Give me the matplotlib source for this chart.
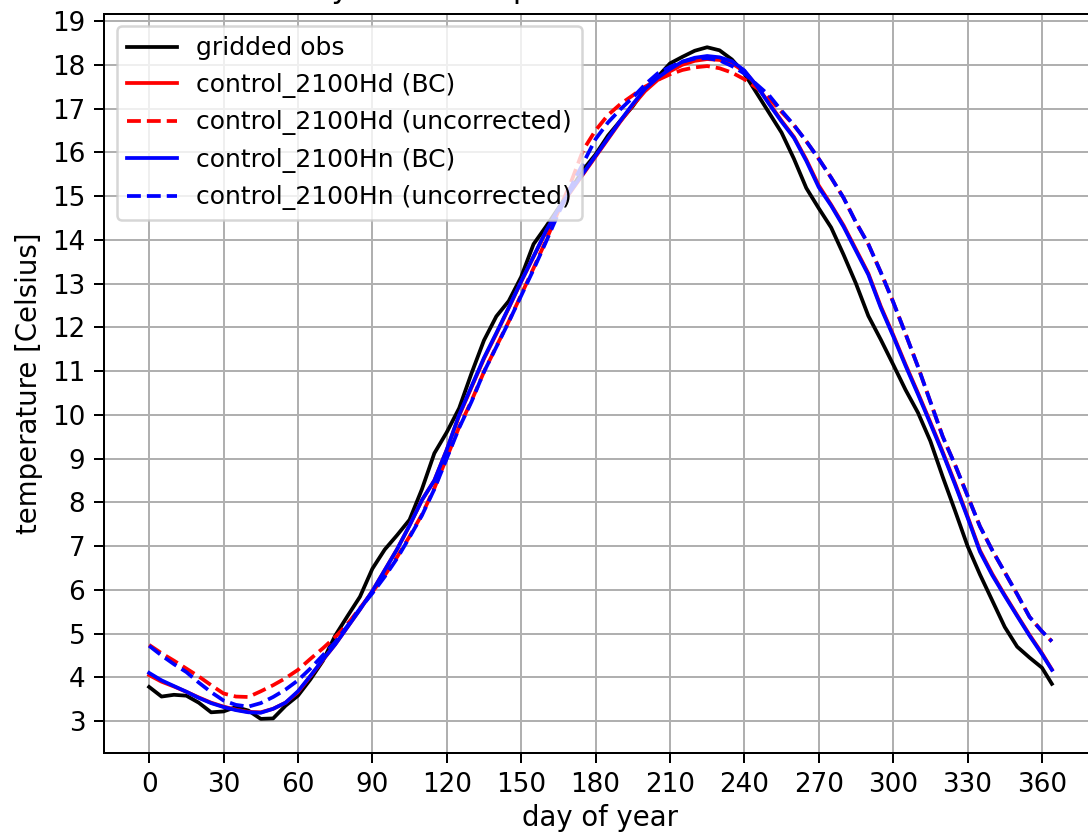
import matplotlib
matplotlib.use("Agg")
import matplotlib.pyplot as plt

days = [0, 5, 10, 15, 20, 25, 30, 35, 40, 45, 50, 55, 60, 65, 70, 75, 80, 85, 90, 95,
        100, 105, 110, 115, 120, 125, 130, 135, 140, 145, 150, 155, 160, 165, 170, 175,
        180, 185, 190, 195, 200, 205, 210, 215, 220, 225, 230, 235, 240, 245, 250, 255,
        260, 265, 270, 275, 280, 285, 290, 295, 300, 305, 310, 315, 320, 325, 330, 335,
        340, 345, 350, 355, 360, 364]

obs = [3.78, 3.56, 3.60, 3.58, 3.42, 3.20, 3.22, 3.32, 3.24, 3.05, 3.06, 3.35, 3.58, 3.95,
       4.37, 4.95, 5.40, 5.84, 6.48, 6.92, 7.25, 7.60, 8.30, 9.12, 9.60, 10.15, 10.95, 11.70,
       12.25, 12.60, 13.15, 13.90, 14.30, 14.72, 15.15, 15.60, 15.95, 16.38, 16.72, 17.05,
       17.45, 17.72, 18.03, 18.18, 18.32, 18.40, 18.33, 18.12, 17.80, 17.35, 16.90, 16.45,
       15.85, 15.18, 14.72, 14.28, 13.66, 13.00, 12.26, 11.72, 11.15, 10.57, 10.05, 9.40,
       8.58, 7.80, 7.00, 6.35, 5.75, 5.15, 4.70, 4.45, 4.22, 3.85]

hd_bc = [4.05, 3.90, 3.79, 3.67, 3.54, 3.42, 3.33, 3.26, 3.21, 3.20, 3.28, 3.42, 3.66, 4.02,
         4.39, 4.75, 5.15, 5.55, 5.97, 6.45, 6.93, 7.47, 8.05, 8.50, 9.20, 9.98, 10.63, 11.28,
         11.85, 12.44, 13.04, 13.61, 14.18, 14.68, 15.10, 15.50, 15.90, 16.30, 16.70, 17.07,
         17.40, 17.65, 17.85, 18.00, 18.09, 18.13, 18.11, 18.03, 17.85, 17.52, 17.12, 16.72,
         16.35, 15.83, 15.24, 14.80, 14.33, 13.78, 13.23, 12.48, 11.83, 11.15, 10.50, 9.83,
         9.15, 8.43, 7.68, 6.90, 6.36, 5.88, 5.42, 4.97, 4.55, 4.18]

hd_raw = [4.74, 4.55, 4.38, 4.20, 4.02, 3.82, 3.63, 3.56, 3.55, 3.68, 3.82, 3.98, 4.17, 4.42,
          4.66, 4.92, 5.22, 5.58, 5.95, 6.33, 6.75, 7.22, 7.72, 8.32, 9.02, 9.72, 10.32, 10.98,
          11.56, 12.13, 12.74, 13.35, 13.98, 14.65, 15.30, 16.05, 16.50, 16.85, 17.10, 17.30,
          17.50, 17.65, 17.78, 17.88, 17.94, 17.97, 17.92, 17.82, 17.67, 17.47, 17.24, 16.92,
          16.62, 16.25, 15.85, 15.42, 14.96, 14.40, 13.90, 13.26, 12.58, 11.85, 11.10, 10.30,
          9.50, 8.85, 8.15, 7.45, 6.90, 6.40, 5.90, 5.38, 5.05, 4.82]

hn_bc = [4.10, 3.93, 3.80, 3.67, 3.53, 3.41, 3.32, 3.25, 3.20, 3.19, 3.28, 3.42, 3.68, 4.03,
         4.40, 4.75, 5.15, 5.55, 5.97, 6.45, 6.93, 7.47, 8.05, 8.50, 9.20, 10.00, 10.65, 11.30,
         11.87, 12.45, 13.05, 13.62, 14.20, 14.70, 15.12, 15.52, 15.92, 16.32, 16.72, 17.10,
         17.45, 17.70, 17.90, 18.07, 18.16, 18.20, 18.17, 18.08, 17.87, 17.52, 17.10, 16.70,
         16.33, 15.80, 15.20, 14.78, 14.30, 13.75, 13.20, 12.45, 11.80, 11.12, 10.47, 9.80,
         9.12, 8.40, 7.65, 6.87, 6.33, 5.86, 5.40, 4.95, 4.53, 4.17]

hn_raw = [4.72, 4.50, 4.30, 4.12, 3.88, 3.66, 3.47, 3.37, 3.33, 3.41, 3.55, 3.72, 3.93, 4.20,
          4.50, 4.80, 5.18, 5.57, 5.92, 6.30, 6.72, 7.20, 7.70, 8.30, 9.00, 9.70, 10.30, 10.98,
          11.55, 12.12, 12.72, 13.32, 13.95, 14.60, 15.20, 15.75, 16.30, 16.68, 16.98, 17.25,
          17.55, 17.80, 17.95, 18.07, 18.14, 18.15, 18.10, 17.97, 17.80, 17.55, 17.30, 16.95,
          16.62, 16.25, 15.85, 15.42, 14.96, 14.40, 13.90, 13.26, 12.58, 11.85, 11.10, 10.30,
          9.50, 8.85, 8.15, 7.45, 6.90, 6.40, 5.90, 5.38, 5.05, 4.82]

series_labels = ["gridded obs", "control_2100Hd (BC)", "control_2100Hd (uncorrected)",
                 "control_2100Hn (BC)", "control_2100Hn (uncorrected)"]
x_ticks = list(range(0, 361, 30))
y_ticks = list(range(3, 20))
title_text = "Daily mean temperature"

plt.rcParams["font.family"] = ["DejaVu Sans"]
DPI = 180
W, H = 1088, 834
fig = plt.figure(figsize=(W / DPI, H / DPI), dpi=DPI)
ax = fig.add_axes([104 / W, 81 / H, (1097 - 104) / W, (753 - 14) / H])

ax.plot(days, obs, color="black", label=series_labels[0])
ax.plot(days, hd_bc, color="red", label=series_labels[1])
ax.plot(days, hd_raw, color="red", ls="--", label=series_labels[2])
ax.plot(days, hn_bc, color="blue", label=series_labels[3])
ax.plot(days, hn_raw, color="blue", ls="--", label=series_labels[4])

ax.set_xlim(-18.2, 382.2)
ax.set_ylim(2.27, 19.16)
ax.set_xticks(x_ticks)
ax.set_yticks(y_ticks)
ax.grid(True)
ax.set_axisbelow(True)
ax.tick_params(labelsize=10.5, length=4)
ax.set_xlabel("day of year", fontsize=11, labelpad=2.5)
ax.set_ylabel("temperature [Celsius]", fontsize=11, labelpad=3.5)

ax.legend(loc="upper left")

fig.text(273 / W, (H + 2) / H, title_text, fontsize=12, ha="left", va="baseline")

fig.savefig("out.png", dpi=DPI)
